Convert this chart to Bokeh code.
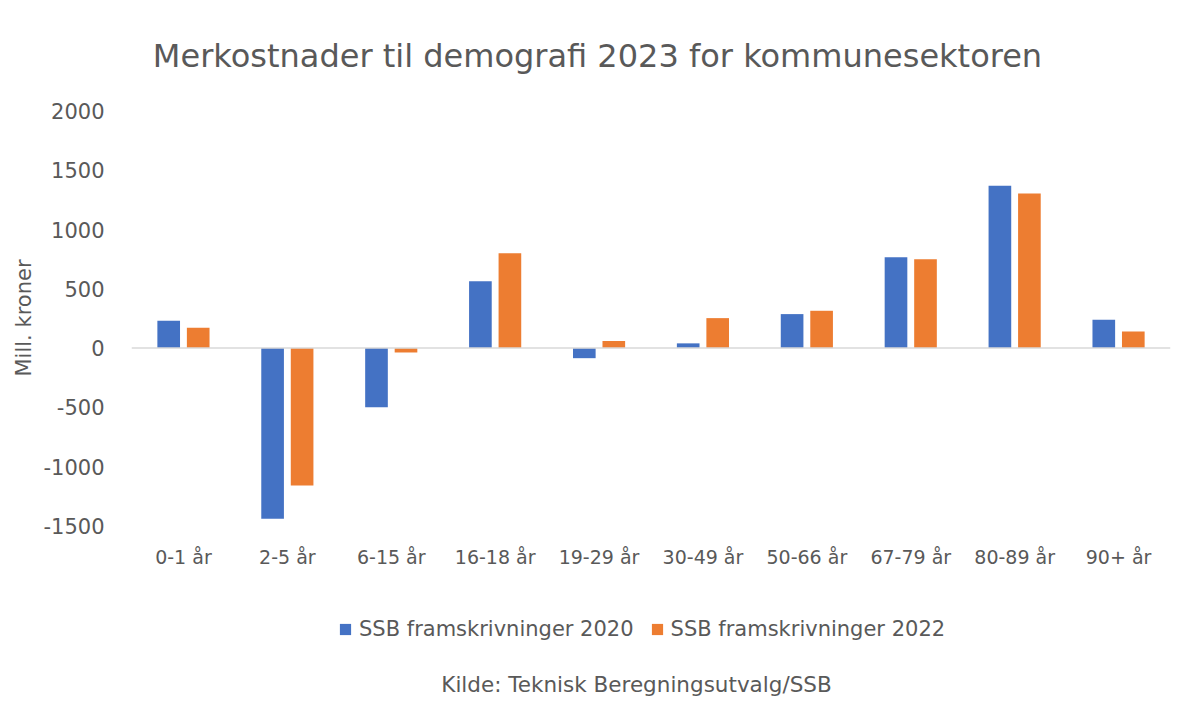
from bokeh.plotting import figure
from bokeh.models import (Range1d, FixedTicker, Span, Legend, LegendItem, Label,
                          Title, NumeralTickFormatter)
from bokeh.transform import dodge
from bokeh.embed import file_html
from bokeh.resources import INLINE

categories = ["0-1 år", "2-5 år", "6-15 år", "16-18 år", "19-29 år",
              "30-49 år", "50-66 år", "67-79 år", "80-89 år", "90+ år"]
ssb_2020 = [230, -1440, -500, 565, -85, 40, 287, 766, 1370, 240]
ssb_2022 = [172, -1160, -37, 800, 60, 253, 315, 750, 1306, 140]
y_ticks = [-1500, -1000, -500, 0, 500, 1000, 1500, 2000]
series_names = ["SSB framskrivninger 2020", "SSB framskrivninger 2022"]
title_text = "Merkostnader til demografi 2023 for kommunesektoren"
source_text = "Kilde: Teknisk Beregningsutvalg/SSB"
y_label = "Mill. kroner"

FONT = "DejaVu Sans"
GREY = "#595959"
BLUE = "#4472C4"
ORANGE = "#ED7D31"

p = figure(width=1182, height=708, x_range=categories,
           y_range=Range1d(-3042, 2934),
           output_backend="svg", toolbar_location=None, title=None,
           min_border_left=131, min_border_right=12,
           min_border_top=0, min_border_bottom=0)
p.x_range.range_padding = 0
p.outline_line_color = None
p.grid.visible = False
p.background_fill_color = "white"
p.border_fill_color = "white"

data = dict(cat=categories, a=ssb_2020, b=ssb_2022)
r1 = p.vbar(x=dodge("cat", -0.142, range=p.x_range), top="a", bottom=0,
            width=0.218, source=data, fill_color=BLUE, line_color=None)
r2 = p.vbar(x=dodge("cat", 0.142, range=p.x_range), top="b", bottom=0,
            width=0.218, source=data, fill_color=ORANGE, line_color=None)

p.add_layout(Span(location=0, dimension="width", line_color="#D9D9D9",
                  line_width=1.5))

ya = p.yaxis[0]
ya.ticker = FixedTicker(ticks=y_ticks)
ya.formatter = NumeralTickFormatter(format="0")
ya.axis_line_color = None
ya.major_tick_line_color = None
ya.minor_tick_line_color = None
ya.major_label_text_font = FONT
ya.major_label_text_font_size = "21px"
ya.major_label_text_color = GREY
ya.major_label_standoff = 21

xa = p.xaxis[0]
xa.fixed_location = -1540
xa.axis_line_color = None
xa.major_tick_line_color = None
xa.minor_tick_line_color = None
xa.major_label_text_font = FONT
xa.major_label_text_font_size = "19px"
xa.major_label_text_color = GREY
xa.major_label_standoff = 9

p.add_layout(Title(text=y_label, align="left", offset=332, standoff=10,
                   text_font=FONT, text_font_size="21px",
                   text_font_style="normal", text_color=GREY), "left")

p.add_layout(Label(x=466, y=653, x_units="screen", y_units="screen",
                   text=title_text, text_align="center",
                   text_baseline="alphabetic", text_font=FONT,
                   text_font_size="32px", text_color=GREY))

legend = Legend(items=[LegendItem(label=series_names[0], renderers=[r1]),
                       LegendItem(label=series_names[1], renderers=[r2])],
                orientation="horizontal", location=(207, 67),
                label_text_font=FONT, label_text_font_size="21px",
                label_text_color=GREY, glyph_width=14, glyph_height=14,
                spacing=16, label_standoff=7, border_line_color=None,
                background_fill_alpha=0, margin=0, padding=0)
p.add_layout(legend, "center")

p.add_layout(Label(x=505, y=24, x_units="screen", y_units="screen",
                   text=source_text, text_align="center",
                   text_baseline="alphabetic", text_font=FONT,
                   text_font_size="21.5px", text_color=GREY))

open("out.html", "w").write(file_html(p, INLINE))
